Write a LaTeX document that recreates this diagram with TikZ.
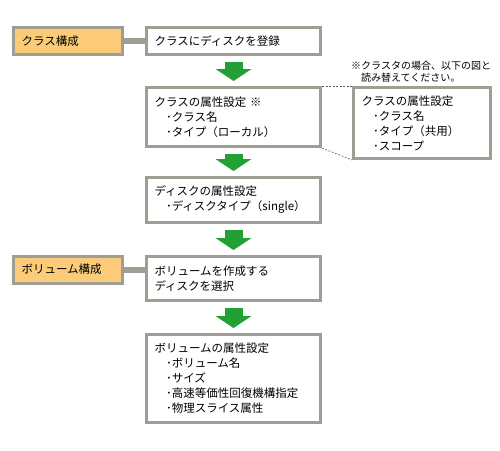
\documentclass[tikz,border=0pt]{standalone}
\usepackage{fontspec}
\setmainfont{Noto Sans CJK JP}
\usetikzlibrary{arrows.meta}
\definecolor{framegray}{RGB}{158,158,148}
\definecolor{stagefill}{RGB}{251,203,121}
\definecolor{flowgreen}{RGB}{34,160,52}
\tikzset{
	stepbox/.style={draw=framegray,line width=3pt,fill=white,text=black,
		inner xsep=8pt,inner ysep=0pt,align=left,text width=158pt,minimum width=174pt,
		font=\fontsize{11.5}{15}\selectfont},
	stagebox/.style={stepbox,fill=stagefill,text width=93pt,minimum width=109pt,minimum height=27pt},
	flowarrow/.style={draw=flowgreen,line width=18pt,
		-{Triangle[width=36pt,length=12pt,line width=0pt]},shorten <=5.5pt,shorten >=5pt},
	stagelink/.style={draw=framegray,line width=6pt},
	notelink/.style={draw=black!65,line width=.6pt,dash pattern=on 2pt off 1.5pt},
	notetext/.style={inner sep=0pt,align=left,text=black,font=\fontsize{10}{12}\selectfont}
}
\begin{document}
\begin{tikzpicture}[x=1pt,y=-1pt]
	\useasboundingbox (0,0) rectangle (500,450);
	% stages on the left
	\node[stagebox] (clsstage) at (68,41) {クラス構成};
	\node[stagebox] (volstage) at (68,269.5) {ボリューム構成};
	% steps
	\node[stepbox,minimum height=27pt] (register) at (233.5,41) {クラスにディスクを登録};
	\node[stepbox,minimum height=59pt] (clsattr) at (233.5,117)
		{クラスの属性設定 ※\\\hspace*{1em}･クラス名\\\hspace*{1em}･タイプ（ローカル）};
	\node[stepbox,minimum height=45pt] (diskattr) at (233.5,200)
		{ディスクの属性設定\\\hspace*{1em}･ディスクタイプ（single）};
	\node[stepbox,minimum height=44pt] (volcreate) at (233.5,278.5)
		{ボリュームを作成する\\ディスクを選択};
	\node[stepbox,minimum height=88pt] (volattr) at (233.5,378.5)
		{ボリュームの属性設定\\\hspace*{1em}･ボリューム名\\\hspace*{1em}･サイズ\\
		\hspace*{1em}･高速等価性回復機構指定\\\hspace*{1em}･物理スライス属性};
	% cluster variant
	\node[stepbox,text width=121pt,minimum width=137pt,minimum height=71pt] (clusattr) at (422,123)
		{クラスの属性設定\\\hspace*{1em}･クラス名\\\hspace*{1em}･タイプ（共用）\\\hspace*{1em}･スコープ};
	\node[notetext,anchor=west] (note) at (351,72)
		{※クラスタの場合、以下の図と\\\hspace*{1em}読み替えてください。};
	% links
	\draw[stagelink] (clsstage.east) -- (clsstage.east -| register.west);
	\draw[stagelink] (volstage.east) -- (volstage.east -| volcreate.west);
	\draw[notelink] (clsattr.north east) -- (clusattr.north west);
	\draw[notelink] (clsattr.south east) -- (clusattr.south west);
	% flow
	\draw[flowarrow] (register.south) -- (clsattr.north);
	\draw[flowarrow] (clsattr.south) -- (diskattr.north);
	\draw[flowarrow] (diskattr.south) -- (volcreate.north);
	\draw[flowarrow] (volcreate.south) -- (volattr.north);
\end{tikzpicture}
\end{document}
